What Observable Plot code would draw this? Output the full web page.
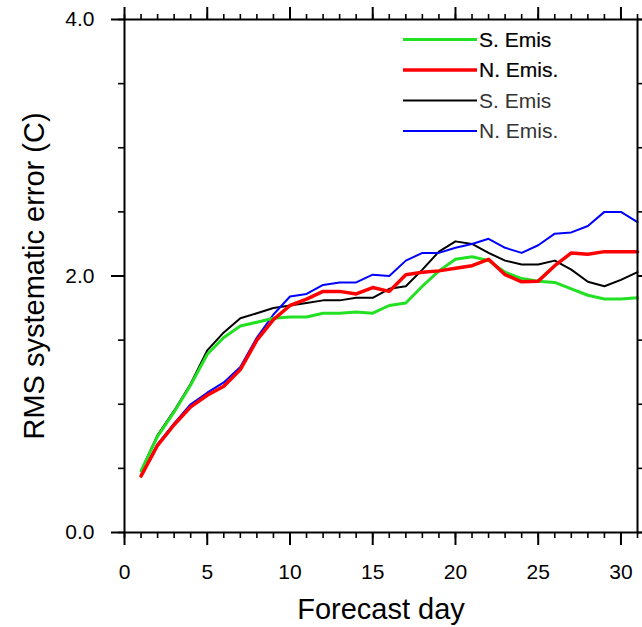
<!DOCTYPE html>
<html>
<head>
<meta charset="utf-8">
<script src="https://cdn.jsdelivr.net/npm/d3@7"></script>
<script src="https://cdn.jsdelivr.net/npm/@observablehq/plot@0.6"></script>
<style>
  body { margin: 0; background: #fff; }
  #chart { position: relative; width: 642px; height: 627px; }
  #legend { position: absolute; left: 0; top: 0; pointer-events: none; }
</style>
</head>
<body>
<div id="chart"></div>
<script>
// Forecast days 1..31
const days = d3.range(1, 32);

// RMS systematic error (C) per forecast day
const sEmisThick = [0.48, 0.75, 0.94, 1.15, 1.39, 1.52, 1.61, 1.64, 1.67, 1.68,
  1.68, 1.71, 1.71, 1.72, 1.71, 1.77, 1.79, 1.92, 2.04, 2.13,
  2.15, 2.12, 2.03, 1.98, 1.96, 1.95, 1.90, 1.85, 1.82, 1.82, 1.83];
const nEmisThick = [0.44, 0.68, 0.84, 0.98, 1.07, 1.14, 1.27, 1.50, 1.66, 1.77,
  1.82, 1.88, 1.88, 1.86, 1.91, 1.88, 2.01, 2.03, 2.04, 2.06,
  2.08, 2.13, 2.01, 1.955, 1.96, 2.08, 2.18, 2.17, 2.19, 2.19, 2.19];
const sEmisThin = [0.48, 0.76, 0.95, 1.16, 1.42, 1.56, 1.67, 1.71, 1.75, 1.77,
  1.79, 1.81, 1.81, 1.83, 1.83, 1.90, 1.92, 2.05, 2.19, 2.27,
  2.25, 2.18, 2.12, 2.09, 2.09, 2.12, 2.05, 1.955, 1.92, 1.97, 2.03];
const nEmisThin = [0.45, 0.69, 0.85, 1.00, 1.09, 1.17, 1.29, 1.52, 1.70, 1.84,
  1.86, 1.93, 1.95, 1.95, 2.01, 2.00, 2.12, 2.18, 2.18, 2.22,
  2.25, 2.29, 2.22, 2.18, 2.24, 2.33, 2.34, 2.39, 2.50, 2.50, 2.42];

// Axis ticks
const xMajor = [0, 5, 10, 15, 20, 25, 30];
const xMinor = d3.range(0, 32);
const yMajor = [0, 2, 4];
const yMinor = [0, 0.5, 1, 1.5, 2, 2.5, 3, 3.5, 4];

// Series styling (legend order)
const legendNames = ["S. Emis", "N. Emis.", "S. Emis", "N. Emis."];
const legendColors = ["#22e022", "#ff0000", "#000000", "#0000ff"];
const legendWidths = [3, 3.5, 2, 2];
const legendText = ["#000", "#000", "#333", "#333"];
const seriesValues = [sEmisThick, nEmisThick, sEmisThin, nEmisThin];

// draw thin lines first so the thick ones sit on top
const drawOrder = [2, 3, 0, 1];

const font = "'Liberation Sans', Arial, Helvetica, sans-serif";
const blank = () => "";

const lineMarks = drawOrder.map(k =>
  Plot.line(days, {
    x: d => d,
    y: (d, i) => seriesValues[k][i],
    stroke: legendColors[k],
    strokeWidth: legendWidths[k],
    strokeLinejoin: "round"
  })
);

const chart = Plot.plot({
  width: 642,
  height: 627,
  marginLeft: 124,
  marginRight: 5,
  marginTop: 19,
  marginBottom: 95,
  style: { fontFamily: font, background: "white", overflow: "visible" },
  x: { domain: [0, 31] },
  y: { domain: [0, 4] },
  marks: [
    ...lineMarks,
    Plot.frame({ stroke: "black", strokeWidth: 2 }),
    // bottom axis
    Plot.axisX({ anchor: "bottom", ticks: xMinor, tickSize: 6, tickFormat: blank, label: null, strokeWidth: 1.6 }),
    Plot.axisX({ anchor: "bottom", ticks: xMajor, tickSize: 13, tickPadding: 19, label: null,
      fontSize: 21, strokeWidth: 2, tickFormat: d3.format("d") }),
    // top axis (mirrored ticks)
    Plot.axisX({ anchor: "top", ticks: xMinor, tickSize: 6, tickFormat: blank, label: null, strokeWidth: 1.6 }),
    Plot.axisX({ anchor: "top", ticks: xMajor, tickSize: 13, tickFormat: blank, label: null, strokeWidth: 2 }),
    // left axis
    Plot.axisY({ anchor: "left", ticks: yMinor, tickSize: 6, tickFormat: blank, label: null, strokeWidth: 1.6 }),
    Plot.axisY({ anchor: "left", ticks: yMajor, tickSize: 13, tickPadding: 17, label: null,
      fontSize: 21, strokeWidth: 2, tickFormat: d3.format(".1f") }),
    // right axis (mirrored ticks)
    Plot.axisY({ anchor: "right", ticks: yMinor, tickSize: 6, tickFormat: blank, label: null, strokeWidth: 1.6 }),
    Plot.axisY({ anchor: "right", ticks: yMajor, tickSize: 13, tickFormat: blank, label: null, strokeWidth: 2 }),
    // axis titles
    Plot.text(["Forecast day"], {
      frameAnchor: "bottom", text: d => d, dy: 86, lineAnchor: "bottom",
      textAnchor: "middle", fontSize: 29, fill: "black"
    }),
    Plot.text(["RMS systematic error (C)"], {
      frameAnchor: "left", text: d => d, rotate: -90, dx: -81, lineAnchor: "bottom",
      textAnchor: "middle", fontSize: 29, fill: "black"
    })
  ]
});

const holder = document.getElementById("chart");
holder.appendChild(chart);

// Line legend in the upper right of the plot area
const legend = d3.select(holder).append("svg")
  .attr("id", "legend")
  .attr("width", 642)
  .attr("height", 160)
  .style("font-family", font);

const rowsG = legend.selectAll("g")
  .data(legendNames.map((name, i) => ({ name, i })))
  .join("g")
  .attr("transform", d => `translate(0, ${39.5 + d.i * 30.5})`);

rowsG.append("line")
  .attr("x1", 403).attr("x2", 477)
  .attr("stroke", d => legendColors[d.i])
  .attr("stroke-width", d => legendWidths[d.i]);

rowsG.append("text")
  .attr("x", 479)
  .attr("dy", "0.35em")
  .attr("font-size", 21)
  .attr("fill", d => legendText[d.i])
  .attr("stroke", d => d.i < 2 ? "#000" : "none")
  .attr("stroke-width", 0.2)
  .text(d => d.name);
</script>
</body>
</html>
